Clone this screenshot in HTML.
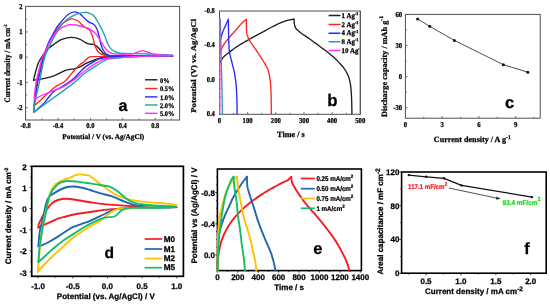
<!DOCTYPE html>
<html><head><meta charset="utf-8"><style>
html,body{margin:0;padding:0;background:#fff;width:550px;height:306px;overflow:hidden}
svg{display:block;will-change:transform;filter:blur(0.3px)}
text{stroke-width:0.25px}
</style></head><body>
<svg width="550" height="306" viewBox="0 0 550 306">
<rect width="550" height="306" fill="#fff"/>
<line x1="41.80" y1="120.00" x2="41.80" y2="118.50" stroke="#505050" stroke-width="0.8" />
<line x1="58.00" y1="120.00" x2="58.00" y2="117.80" stroke="#505050" stroke-width="0.8" />
<line x1="74.20" y1="120.00" x2="74.20" y2="118.50" stroke="#505050" stroke-width="0.8" />
<line x1="90.40" y1="120.00" x2="90.40" y2="117.80" stroke="#505050" stroke-width="0.8" />
<line x1="106.60" y1="120.00" x2="106.60" y2="118.50" stroke="#505050" stroke-width="0.8" />
<line x1="122.80" y1="120.00" x2="122.80" y2="117.80" stroke="#505050" stroke-width="0.8" />
<line x1="139.00" y1="120.00" x2="139.00" y2="118.50" stroke="#505050" stroke-width="0.8" />
<line x1="155.20" y1="120.00" x2="155.20" y2="117.80" stroke="#505050" stroke-width="0.8" />
<line x1="171.40" y1="120.00" x2="171.40" y2="118.50" stroke="#505050" stroke-width="0.8" />
<line x1="25.60" y1="107.70" x2="27.80" y2="107.70" stroke="#505050" stroke-width="0.8" />
<line x1="25.60" y1="95.08" x2="27.10" y2="95.08" stroke="#505050" stroke-width="0.8" />
<line x1="25.60" y1="82.45" x2="27.80" y2="82.45" stroke="#505050" stroke-width="0.8" />
<line x1="25.60" y1="69.83" x2="27.10" y2="69.83" stroke="#505050" stroke-width="0.8" />
<line x1="25.60" y1="57.20" x2="27.80" y2="57.20" stroke="#505050" stroke-width="0.8" />
<line x1="25.60" y1="44.58" x2="27.10" y2="44.58" stroke="#505050" stroke-width="0.8" />
<line x1="25.60" y1="31.95" x2="27.80" y2="31.95" stroke="#505050" stroke-width="0.8" />
<line x1="25.60" y1="19.33" x2="27.10" y2="19.33" stroke="#505050" stroke-width="0.8" />
<rect x="25.6" y="6.4" width="154.0" height="113.6" fill="none" stroke="#505050" stroke-width="1"/>
<text transform="translate(22.60,6.70) skewX(0.05) scale(0.87,1)" font-size="7.5" font-family='"Liberation Serif", serif' font-weight="bold" text-anchor="end" dominant-baseline="central" fill="#000"  stroke="#000">2</text>
<text transform="translate(22.60,31.95) skewX(0.05) scale(0.87,1)" font-size="7.5" font-family='"Liberation Serif", serif' font-weight="bold" text-anchor="end" dominant-baseline="central" fill="#000"  stroke="#000">1</text>
<text transform="translate(22.60,57.20) skewX(0.05) scale(0.87,1)" font-size="7.5" font-family='"Liberation Serif", serif' font-weight="bold" text-anchor="end" dominant-baseline="central" fill="#000"  stroke="#000">0</text>
<text transform="translate(22.60,82.45) skewX(0.05) scale(0.87,1)" font-size="7.5" font-family='"Liberation Serif", serif' font-weight="bold" text-anchor="end" dominant-baseline="central" fill="#000"  stroke="#000">-1</text>
<text transform="translate(22.60,107.70) skewX(0.05) scale(0.87,1)" font-size="7.5" font-family='"Liberation Serif", serif' font-weight="bold" text-anchor="end" dominant-baseline="central" fill="#000"  stroke="#000">-2</text>
<text transform="translate(25.60,126.30) skewX(0.05) scale(0.87,1)" font-size="7.5" font-family='"Liberation Serif", serif' font-weight="bold" text-anchor="middle" dominant-baseline="central" fill="#000"  stroke="#000">-0.8</text>
<text transform="translate(58.00,126.30) skewX(0.05) scale(0.87,1)" font-size="7.5" font-family='"Liberation Serif", serif' font-weight="bold" text-anchor="middle" dominant-baseline="central" fill="#000"  stroke="#000">-0.4</text>
<text transform="translate(90.40,126.30) skewX(0.05) scale(0.87,1)" font-size="7.5" font-family='"Liberation Serif", serif' font-weight="bold" text-anchor="middle" dominant-baseline="central" fill="#000"  stroke="#000">0.0</text>
<text transform="translate(122.80,126.30) skewX(0.05) scale(0.87,1)" font-size="7.5" font-family='"Liberation Serif", serif' font-weight="bold" text-anchor="middle" dominant-baseline="central" fill="#000"  stroke="#000">0.4</text>
<text transform="translate(155.20,126.30) skewX(0.05) scale(0.87,1)" font-size="7.5" font-family='"Liberation Serif", serif' font-weight="bold" text-anchor="middle" dominant-baseline="central" fill="#000"  stroke="#000">0.8</text>
<text transform="translate(103.20,137.30) skewX(0.05) scale(1.0,1)" font-size="7.25" font-family='"Liberation Serif", serif' font-weight="bold" text-anchor="middle" dominant-baseline="central" fill="#000"  stroke="#000">Potential / V (vs. Ag/AgCl)</text>
<text transform="translate(7.5,63.4) rotate(-90) skewX(0.05) scale(0.85,1)" font-size="8.3" font-family='"Liberation Serif", serif' font-weight="bold" text-anchor="middle" dominant-baseline="central" stroke="#000">Current density / mA cm<tspan dy="-2.5" font-size="4.8">-2</tspan></text>
<path d="M33.40,80.30 C33.85,78.58 35.25,72.97 36.10,70.00 C36.95,67.03 37.67,64.50 38.50,62.50 C39.33,60.50 40.10,59.58 41.10,58.00 C42.10,56.42 43.40,54.48 44.50,53.00 C45.60,51.52 46.12,50.55 47.70,49.10 C49.28,47.65 51.95,45.78 54.00,44.30 C56.05,42.82 58.00,41.23 60.00,40.20 C62.00,39.17 64.03,38.57 66.00,38.10 C67.97,37.63 69.53,37.23 71.80,37.40 C74.07,37.57 77.23,38.18 79.60,39.10 C81.97,40.02 84.32,42.05 86.00,42.90 C87.68,43.75 88.48,43.97 89.70,44.20 C90.92,44.43 92.08,43.92 93.30,44.30 C94.52,44.68 95.78,45.52 97.00,46.50 C98.22,47.48 99.53,49.05 100.60,50.20 C101.67,51.35 102.33,52.48 103.40,53.40 C104.47,54.32 105.23,55.23 107.00,55.70 C108.77,56.17 103.10,56.12 114.00,56.20 C124.90,56.28 171.40,56.13 172.40,56.20 C173.40,56.27 131.07,56.43 120.00,56.60 C108.93,56.77 109.17,57.00 106.00,57.20 C102.83,57.40 102.58,57.48 101.00,57.80 C99.42,58.12 98.17,58.50 96.50,59.10 C94.83,59.70 92.83,60.63 91.00,61.40 C89.17,62.17 87.33,62.78 85.50,63.70 C83.67,64.62 81.92,66.05 80.00,66.90 C78.08,67.75 76.30,68.25 74.00,68.80 C71.70,69.35 69.47,69.07 66.20,70.20 C62.93,71.33 58.00,74.23 54.40,75.60 C50.80,76.97 48.10,77.62 44.60,78.40 C41.10,79.18 35.27,79.98 33.40,80.30" fill="none" stroke="#1e1e1e" stroke-width="1.35" stroke-linejoin="round" stroke-linecap="round" />
<path d="M33.80,106.00 C34.03,104.17 34.68,99.00 35.20,95.00 C35.72,91.00 36.13,86.17 36.90,82.00 C37.67,77.83 38.83,74.00 39.80,70.00 C40.77,66.00 41.70,61.33 42.70,58.00 C43.70,54.67 44.77,52.50 45.80,50.00 C46.83,47.50 47.62,45.50 48.90,43.00 C50.18,40.50 51.97,37.50 53.50,35.00 C55.03,32.50 56.77,29.73 58.10,28.00 C59.43,26.27 60.35,25.63 61.50,24.60 C62.65,23.57 63.83,22.60 65.00,21.80 C66.17,21.00 67.33,20.28 68.50,19.80 C69.67,19.32 70.48,18.75 72.00,18.90 C73.52,19.05 75.60,19.43 77.60,20.70 C79.60,21.97 82.02,24.97 84.00,26.50 C85.98,28.03 88.10,28.32 89.50,29.90 C90.90,31.48 91.68,34.07 92.40,36.00 C93.12,37.93 93.35,39.82 93.80,41.50 C94.25,43.18 94.42,44.42 95.10,46.10 C95.78,47.78 96.82,50.23 97.90,51.60 C98.98,52.97 100.08,53.62 101.60,54.30 C103.12,54.98 104.93,55.38 107.00,55.70 C109.07,56.02 103.10,56.12 114.00,56.20 C124.90,56.28 170.57,56.17 172.40,56.20 C174.23,56.23 135.73,56.37 125.00,56.40 C114.27,56.43 113.22,56.37 108.00,56.40 C102.78,56.43 96.92,56.43 93.70,56.60 C90.48,56.77 90.37,56.52 88.70,57.40 C87.03,58.28 85.15,60.70 83.70,61.90 C82.25,63.10 81.45,63.33 80.00,64.60 C78.55,65.87 76.52,67.87 75.00,69.50 C73.48,71.13 72.57,72.43 70.90,74.40 C69.23,76.37 66.77,79.70 65.00,81.30 C63.23,82.90 62.07,82.95 60.30,84.00 C58.53,85.05 57.83,84.78 54.40,87.60 C50.97,90.42 43.13,97.83 39.70,100.90 C36.27,103.97 34.78,105.15 33.80,106.00" fill="none" stroke="#ff2424" stroke-width="1.35" stroke-linejoin="round" stroke-linecap="round" />
<path d="M33.60,112.40 C33.90,110.00 34.70,103.07 35.40,98.00 C36.10,92.93 36.92,86.67 37.80,82.00 C38.68,77.33 39.77,74.00 40.70,70.00 C41.63,66.00 42.55,61.33 43.40,58.00 C44.25,54.67 44.97,52.50 45.80,50.00 C46.63,47.50 47.32,45.42 48.40,43.00 C49.48,40.58 50.98,38.00 52.30,35.50 C53.62,33.00 55.27,29.72 56.30,28.00 C57.33,26.28 57.38,26.60 58.50,25.20 C59.62,23.80 61.33,21.43 63.00,19.60 C64.67,17.77 66.55,15.48 68.50,14.20 C70.45,12.92 72.85,12.00 74.70,11.90 C76.55,11.80 78.05,12.62 79.60,13.60 C81.15,14.58 82.50,16.42 84.00,17.80 C85.50,19.18 86.92,20.75 88.60,21.90 C90.28,23.05 92.73,23.55 94.10,24.70 C95.47,25.85 95.97,26.90 96.80,28.80 C97.63,30.70 98.47,33.68 99.10,36.10 C99.73,38.52 100.03,41.18 100.60,43.30 C101.17,45.42 101.73,47.20 102.50,48.80 C103.27,50.40 104.13,51.83 105.20,52.90 C106.27,53.97 107.43,54.68 108.90,55.20 C110.37,55.72 103.42,55.87 114.00,56.00 C124.58,56.13 168.07,55.95 172.40,56.00 C176.73,56.05 150.73,56.08 140.00,56.30 C129.27,56.52 114.03,57.05 108.00,57.30 C101.97,57.55 105.42,57.50 103.80,57.80 C102.18,58.10 100.28,58.27 98.30,59.10 C96.32,59.93 94.03,61.50 91.90,62.80 C89.77,64.10 87.48,65.37 85.50,66.90 C83.52,68.43 82.12,69.93 80.00,72.00 C77.88,74.07 75.83,76.82 72.80,79.30 C69.77,81.78 64.87,84.95 61.80,86.90 C58.73,88.85 56.62,89.23 54.40,91.00 C52.18,92.77 50.15,95.57 48.50,97.50 C46.85,99.43 46.17,100.82 44.50,102.60 C42.83,104.38 40.32,106.57 38.50,108.20 C36.68,109.83 34.42,111.70 33.60,112.40" fill="none" stroke="#2727ff" stroke-width="1.35" stroke-linejoin="round" stroke-linecap="round" />
<path d="M33.60,112.40 C33.90,110.33 34.50,104.73 35.40,100.00 C36.30,95.27 37.93,89.00 39.00,84.00 C40.07,79.00 40.88,74.33 41.80,70.00 C42.72,65.67 43.43,61.50 44.50,58.00 C45.57,54.50 47.02,51.67 48.20,49.00 C49.38,46.33 50.38,44.42 51.60,42.00 C52.82,39.58 54.22,36.83 55.50,34.50 C56.78,32.17 57.97,29.98 59.30,28.00 C60.63,26.02 61.97,24.18 63.50,22.60 C65.03,21.02 66.75,19.70 68.50,18.50 C70.25,17.30 72.42,16.22 74.00,15.40 C75.58,14.58 76.08,14.12 78.00,13.60 C79.92,13.08 83.50,12.32 85.50,12.30 C87.50,12.28 88.57,12.88 90.00,13.50 C91.43,14.12 92.50,14.07 94.10,16.00 C95.70,17.93 97.93,22.05 99.60,25.10 C101.27,28.15 102.78,31.27 104.10,34.30 C105.42,37.33 106.48,41.03 107.50,43.30 C108.52,45.57 109.12,46.60 110.20,47.90 C111.28,49.20 112.70,50.32 114.00,51.10 C115.30,51.88 116.33,52.23 118.00,52.60 C119.67,52.97 118.80,53.07 124.00,53.30 C129.20,53.53 141.13,53.65 149.20,54.00 C157.27,54.35 173.93,55.00 172.40,55.40 C170.87,55.80 150.73,55.78 140.00,56.40 C129.27,57.02 113.73,58.48 108.00,59.10 C102.27,59.72 106.92,59.40 105.60,60.10 C104.28,60.80 102.08,62.08 100.10,63.30 C98.12,64.52 95.83,66.03 93.70,67.40 C91.57,68.77 89.25,70.13 87.30,71.50 C85.35,72.87 83.55,74.25 82.00,75.60 C80.45,76.95 80.00,77.88 78.00,79.60 C76.00,81.32 73.33,83.40 70.00,85.90 C66.67,88.40 62.07,91.65 58.00,94.60 C53.93,97.55 49.67,100.63 45.60,103.60 C41.53,106.57 35.60,110.93 33.60,112.40" fill="none" stroke="#1fa59f" stroke-width="1.35" stroke-linejoin="round" stroke-linecap="round" />
<path d="M34.10,99.40 C34.37,97.00 34.90,89.90 35.70,85.00 C36.50,80.10 37.83,74.50 38.90,70.00 C39.97,65.50 40.92,61.33 42.10,58.00 C43.28,54.67 44.80,52.50 46.00,50.00 C47.20,47.50 47.97,45.50 49.30,43.00 C50.63,40.50 52.23,37.33 54.00,35.00 C55.77,32.67 57.92,30.53 59.90,29.00 C61.88,27.47 64.22,26.52 65.90,25.80 C67.58,25.08 68.37,24.83 70.00,24.70 C71.63,24.57 73.37,24.62 75.70,25.00 C78.03,25.38 81.70,26.37 84.00,27.00 C86.30,27.63 87.67,27.82 89.50,28.80 C91.33,29.78 93.68,31.70 95.00,32.90 C96.32,34.10 96.23,34.27 97.40,36.00 C98.57,37.73 100.55,41.08 102.00,43.30 C103.45,45.52 104.80,47.77 106.10,49.30 C107.40,50.83 108.48,51.75 109.80,52.50 C111.12,53.25 111.47,53.52 114.00,53.80 C116.53,54.08 121.75,54.23 125.00,54.20 C128.25,54.17 130.60,54.20 133.50,53.60 C136.40,53.00 139.45,50.60 142.40,50.60 C145.35,50.60 148.27,52.87 151.20,53.60 C154.13,54.33 156.47,54.67 160.00,55.00 C163.53,55.33 175.73,55.37 172.40,55.60 C169.07,55.83 150.73,55.97 140.00,56.40 C129.27,56.83 113.88,57.80 108.00,58.20 C102.12,58.60 106.17,58.27 104.70,58.80 C103.23,59.33 101.18,60.35 99.20,61.40 C97.22,62.45 94.93,63.72 92.80,65.10 C90.67,66.48 88.53,68.10 86.40,69.70 C84.27,71.30 81.65,73.32 80.00,74.70 C78.35,76.08 78.17,76.70 76.50,78.00 C74.83,79.30 72.22,81.02 70.00,82.50 C67.78,83.98 65.30,85.80 63.20,86.90 C61.10,88.00 60.83,87.75 57.40,89.10 C53.97,90.45 46.48,93.28 42.60,95.00 C38.72,96.72 35.52,98.67 34.10,99.40" fill="none" stroke="#ff2cff" stroke-width="1.35" stroke-linejoin="round" stroke-linecap="round" />
<line x1="145.00" y1="79.80" x2="157.50" y2="79.80" stroke="#1e1e1e" stroke-width="1.4" />
<text transform="translate(160.00,79.90) skewX(0.05) scale(0.92,1)" font-size="7.0" font-family='"Liberation Serif", serif' font-weight="bold" text-anchor="start" dominant-baseline="central" fill="#000"  stroke="#000">0%</text>
<line x1="145.00" y1="88.50" x2="157.50" y2="88.50" stroke="#ff2424" stroke-width="1.4" />
<text transform="translate(160.00,88.60) skewX(0.05) scale(0.92,1)" font-size="7.0" font-family='"Liberation Serif", serif' font-weight="bold" text-anchor="start" dominant-baseline="central" fill="#000"  stroke="#000">0.5%</text>
<line x1="145.00" y1="96.90" x2="157.50" y2="96.90" stroke="#2727ff" stroke-width="1.4" />
<text transform="translate(160.00,97.00) skewX(0.05) scale(0.92,1)" font-size="7.0" font-family='"Liberation Serif", serif' font-weight="bold" text-anchor="start" dominant-baseline="central" fill="#000"  stroke="#000">1.0%</text>
<line x1="145.00" y1="105.00" x2="157.50" y2="105.00" stroke="#1fa59f" stroke-width="1.4" />
<text transform="translate(160.00,105.10) skewX(0.05) scale(0.92,1)" font-size="7.0" font-family='"Liberation Serif", serif' font-weight="bold" text-anchor="start" dominant-baseline="central" fill="#000"  stroke="#000">2.0%</text>
<line x1="145.00" y1="113.30" x2="157.50" y2="113.30" stroke="#ff2cff" stroke-width="1.4" />
<text transform="translate(160.00,113.40) skewX(0.05) scale(0.92,1)" font-size="7.0" font-family='"Liberation Serif", serif' font-weight="bold" text-anchor="start" dominant-baseline="central" fill="#000"  stroke="#000">5.0%</text>
<text transform="translate(123.00,105.00) skewX(0.05) scale(1.0,1)" font-size="16.2" font-family='"Liberation Sans", sans-serif' font-weight="bold" text-anchor="middle" dominant-baseline="central" fill="#000"  stroke="#000">a</text>
<line x1="233.58" y1="114.30" x2="233.58" y2="112.80" stroke="#505050" stroke-width="0.8" />
<line x1="247.66" y1="114.30" x2="247.66" y2="112.10" stroke="#505050" stroke-width="0.8" />
<line x1="261.74" y1="114.30" x2="261.74" y2="112.80" stroke="#505050" stroke-width="0.8" />
<line x1="275.82" y1="114.30" x2="275.82" y2="112.10" stroke="#505050" stroke-width="0.8" />
<line x1="289.90" y1="114.30" x2="289.90" y2="112.80" stroke="#505050" stroke-width="0.8" />
<line x1="303.98" y1="114.30" x2="303.98" y2="112.10" stroke="#505050" stroke-width="0.8" />
<line x1="318.06" y1="114.30" x2="318.06" y2="112.80" stroke="#505050" stroke-width="0.8" />
<line x1="332.14" y1="114.30" x2="332.14" y2="112.10" stroke="#505050" stroke-width="0.8" />
<line x1="346.22" y1="114.30" x2="346.22" y2="112.80" stroke="#505050" stroke-width="0.8" />
<line x1="219.50" y1="19.57" x2="221.00" y2="19.57" stroke="#505050" stroke-width="0.8" />
<line x1="219.50" y1="28.16" x2="221.00" y2="28.16" stroke="#505050" stroke-width="0.8" />
<line x1="219.50" y1="36.75" x2="221.00" y2="36.75" stroke="#505050" stroke-width="0.8" />
<line x1="219.50" y1="45.34" x2="221.70" y2="45.34" stroke="#505050" stroke-width="0.8" />
<line x1="219.50" y1="53.93" x2="221.00" y2="53.93" stroke="#505050" stroke-width="0.8" />
<line x1="219.50" y1="62.52" x2="221.00" y2="62.52" stroke="#505050" stroke-width="0.8" />
<line x1="219.50" y1="71.11" x2="221.00" y2="71.11" stroke="#505050" stroke-width="0.8" />
<line x1="219.50" y1="79.70" x2="221.70" y2="79.70" stroke="#505050" stroke-width="0.8" />
<line x1="219.50" y1="88.29" x2="221.00" y2="88.29" stroke="#505050" stroke-width="0.8" />
<line x1="219.50" y1="96.88" x2="221.00" y2="96.88" stroke="#505050" stroke-width="0.8" />
<line x1="219.50" y1="105.47" x2="221.00" y2="105.47" stroke="#505050" stroke-width="0.8" />
<rect x="219.5" y="11.0" width="140.8" height="103.3" fill="none" stroke="#505050" stroke-width="1"/>
<text transform="translate(214.80,10.98) skewX(0.05) scale(0.87,1)" font-size="7.5" font-family='"Liberation Serif", serif' font-weight="bold" text-anchor="end" dominant-baseline="central" fill="#000"  stroke="#000">-0.8</text>
<text transform="translate(214.80,45.34) skewX(0.05) scale(0.87,1)" font-size="7.5" font-family='"Liberation Serif", serif' font-weight="bold" text-anchor="end" dominant-baseline="central" fill="#000"  stroke="#000">-0.4</text>
<text transform="translate(214.80,79.70) skewX(0.05) scale(0.87,1)" font-size="7.5" font-family='"Liberation Serif", serif' font-weight="bold" text-anchor="end" dominant-baseline="central" fill="#000"  stroke="#000">0.0</text>
<text transform="translate(214.80,114.06) skewX(0.05) scale(0.87,1)" font-size="7.5" font-family='"Liberation Serif", serif' font-weight="bold" text-anchor="end" dominant-baseline="central" fill="#000"  stroke="#000">0.4</text>
<text transform="translate(219.50,121.30) skewX(0.05) scale(0.9,1)" font-size="7.5" font-family='"Liberation Serif", serif' font-weight="bold" text-anchor="middle" dominant-baseline="central" fill="#000"  stroke="#000">0</text>
<text transform="translate(247.66,121.30) skewX(0.05) scale(0.9,1)" font-size="7.5" font-family='"Liberation Serif", serif' font-weight="bold" text-anchor="middle" dominant-baseline="central" fill="#000"  stroke="#000">100</text>
<text transform="translate(275.82,121.30) skewX(0.05) scale(0.9,1)" font-size="7.5" font-family='"Liberation Serif", serif' font-weight="bold" text-anchor="middle" dominant-baseline="central" fill="#000"  stroke="#000">200</text>
<text transform="translate(303.98,121.30) skewX(0.05) scale(0.9,1)" font-size="7.5" font-family='"Liberation Serif", serif' font-weight="bold" text-anchor="middle" dominant-baseline="central" fill="#000"  stroke="#000">300</text>
<text transform="translate(332.14,121.30) skewX(0.05) scale(0.9,1)" font-size="7.5" font-family='"Liberation Serif", serif' font-weight="bold" text-anchor="middle" dominant-baseline="central" fill="#000"  stroke="#000">400</text>
<text transform="translate(360.30,121.30) skewX(0.05) scale(0.9,1)" font-size="7.5" font-family='"Liberation Serif", serif' font-weight="bold" text-anchor="middle" dominant-baseline="central" fill="#000"  stroke="#000">500</text>
<text transform="translate(290.90,134.40) skewX(0.05) scale(1.0,1)" font-size="8.2" font-family='"Liberation Serif", serif' font-weight="bold" text-anchor="middle" dominant-baseline="central" fill="#000"  stroke="#000">Time / s</text>
<text transform="translate(193.5,65.8) rotate(-90) skewX(0.05)" font-size="7.4" font-family='"Liberation Serif", serif' font-weight="bold" text-anchor="middle" dominant-baseline="central" textLength="94" lengthAdjust="spacingAndGlyphs" stroke="#000">Potential (V) vs. Ag/AgCl</text>
<path d="M219.80,62.50 L220.74,60.89 L221.68,59.39 L222.62,58.06 L223.56,56.94 L224.50,56.01 L225.44,55.19 L226.37,54.46 L227.31,53.76 L228.25,53.07 L229.19,52.35 L230.13,51.61 L231.07,50.87 L232.01,50.14 L232.95,49.42 L233.89,48.71 L234.83,48.02 L235.77,47.36 L236.71,46.73 L237.65,46.12 L238.58,45.54 L239.52,44.96 L240.46,44.41 L241.40,43.86 L242.34,43.32 L243.28,42.78 L244.22,42.24 L245.16,41.70 L246.10,41.15 L247.04,40.60 L247.98,40.06 L248.92,39.51 L249.86,38.97 L250.79,38.44 L251.73,37.90 L252.67,37.37 L253.61,36.85 L254.55,36.33 L255.49,35.81 L256.43,35.30 L257.37,34.80 L258.31,34.30 L259.25,33.81 L260.19,33.31 L261.13,32.82 L262.07,32.32 L263.01,31.82 L263.94,31.32 L264.88,30.81 L265.82,30.30 L266.76,29.78 L267.70,29.27 L268.64,28.75 L269.58,28.24 L270.52,27.73 L271.46,27.24 L272.40,26.75 L273.34,26.28 L274.28,25.81 L275.22,25.33 L276.15,24.86 L277.09,24.40 L278.03,23.95 L278.97,23.51 L279.91,23.09 L280.85,22.69 L281.79,22.32 L282.73,21.97 L283.67,21.62 L284.61,21.29 L285.55,20.98 L286.49,20.68 L287.43,20.40 L288.36,20.15 L289.30,19.92 L290.24,19.72 L291.18,19.54 L292.12,19.37 L293.06,19.22 L294.00,19.10" fill="none" stroke="#1e1e1e" stroke-width="1.35" stroke-linejoin="round" stroke-linecap="round" />
<path d="M294.00,19.10 L294.03,20.30 L294.10,21.50 L294.23,22.70 L294.40,23.91 L294.61,25.11 L294.86,26.31 L295.32,27.51 L296.23,28.71 L297.39,29.91 L298.61,31.11 L299.99,32.31 L301.59,33.52 L303.36,34.72 L305.20,35.92 L307.04,37.12 L308.81,38.32 L310.47,39.52 L312.12,40.72 L313.75,41.92 L315.38,43.13 L317.01,44.33 L318.62,45.53 L320.24,46.73 L321.85,47.93 L323.49,49.13 L325.13,50.33 L326.75,51.53 L328.32,52.74 L329.81,53.94 L331.22,55.14 L332.61,56.34 L333.97,57.54 L335.28,58.74 L336.54,59.94 L337.74,61.14 L338.89,62.35 L339.97,63.55 L341.04,64.75 L342.08,65.95 L343.09,67.15 L344.03,68.35 L344.89,69.55 L345.67,70.75 L346.33,71.96 L346.95,73.16 L347.53,74.36 L348.07,75.56 L348.56,76.76 L349.00,77.96 L349.37,79.16 L349.67,80.36 L349.92,81.57 L350.14,82.77 L350.35,83.97 L350.53,85.17 L350.70,86.37 L350.84,87.57 L350.97,88.77 L351.07,89.97 L351.17,91.18 L351.25,92.38 L351.33,93.58 L351.40,94.78 L351.47,95.98 L351.53,97.18 L351.58,98.38 L351.63,99.58 L351.67,100.79 L351.70,101.99 L351.73,103.19 L351.76,104.39 L351.79,105.59 L351.81,106.79 L351.84,107.99 L351.86,109.19 L351.88,110.40 L351.89,111.60 L351.90,112.80 L351.90,114.00" fill="none" stroke="#1e1e1e" stroke-width="1.35" stroke-linejoin="round" stroke-linecap="round" />
<path d="M219.80,53.40 L220.14,52.53 L220.47,51.67 L220.81,50.83 L221.15,50.01 L221.48,49.21 L221.82,48.44 L222.16,47.70 L222.49,46.99 L222.83,46.32 L223.17,45.69 L223.50,45.09 L223.84,44.54 L224.18,44.00 L224.51,43.49 L224.85,43.00 L225.19,42.52 L225.52,42.07 L225.86,41.62 L226.20,41.19 L226.53,40.77 L226.87,40.36 L227.21,39.95 L227.54,39.54 L227.88,39.14 L228.22,38.74 L228.55,38.34 L228.89,37.93 L229.23,37.52 L229.56,37.12 L229.90,36.72 L230.24,36.33 L230.57,35.94 L230.91,35.56 L231.25,35.18 L231.58,34.80 L231.92,34.43 L232.26,34.06 L232.59,33.69 L232.93,33.32 L233.27,32.95 L233.61,32.59 L233.94,32.22 L234.28,31.85 L234.62,31.48 L234.95,31.11 L235.29,30.74 L235.63,30.36 L235.96,29.98 L236.30,29.60 L236.64,29.21 L236.97,28.81 L237.31,28.41 L237.65,28.00 L237.98,27.59 L238.32,27.18 L238.66,26.77 L238.99,26.35 L239.33,25.95 L239.67,25.54 L240.00,25.15 L240.34,24.76 L240.68,24.38 L241.01,24.01 L241.35,23.65 L241.69,23.31 L242.02,22.98 L242.36,22.66 L242.70,22.35 L243.03,22.03 L243.37,21.73 L243.71,21.43 L244.04,21.14 L244.38,20.86 L244.72,20.58 L245.05,20.31 L245.39,20.05 L245.73,19.79 L246.06,19.54 L246.40,19.30" fill="none" stroke="#ff2424" stroke-width="1.35" stroke-linejoin="round" stroke-linecap="round" />
<path d="M246.40,19.30 L246.40,20.50 L246.41,21.70 L246.41,22.90 L246.43,24.09 L246.44,25.29 L246.46,26.49 L246.48,27.69 L246.51,28.89 L246.54,30.09 L246.57,31.29 L246.61,32.49 L246.77,33.68 L247.09,34.88 L247.52,36.08 L248.04,37.28 L248.59,38.48 L249.14,39.68 L249.75,40.88 L250.48,42.08 L251.29,43.27 L252.15,44.47 L253.03,45.67 L253.89,46.87 L254.71,48.07 L255.52,49.27 L256.33,50.47 L257.15,51.67 L257.96,52.86 L258.76,54.06 L259.56,55.26 L260.33,56.46 L261.11,57.66 L261.87,58.86 L262.63,60.06 L263.38,61.26 L264.09,62.45 L264.79,63.65 L265.50,64.85 L266.22,66.05 L266.90,67.25 L267.50,68.45 L267.95,69.65 L268.29,70.85 L268.61,72.04 L268.90,73.24 L269.17,74.44 L269.41,75.64 L269.64,76.84 L269.84,78.04 L270.03,79.24 L270.19,80.44 L270.33,81.63 L270.44,82.83 L270.54,84.03 L270.63,85.23 L270.72,86.43 L270.79,87.63 L270.86,88.83 L270.93,90.03 L270.98,91.22 L271.03,92.42 L271.07,93.62 L271.10,94.82 L271.12,96.02 L271.14,97.22 L271.16,98.42 L271.18,99.62 L271.20,100.81 L271.21,102.01 L271.23,103.21 L271.24,104.41 L271.26,105.61 L271.27,106.81 L271.28,108.01 L271.28,109.21 L271.29,110.40 L271.30,111.60 L271.30,112.80 L271.30,114.00" fill="none" stroke="#ff2424" stroke-width="1.35" stroke-linejoin="round" stroke-linecap="round" />
<path d="M219.80,42.40 L219.91,41.95 L220.02,41.49 L220.13,41.05 L220.24,40.60 L220.34,40.16 L220.45,39.73 L220.56,39.30 L220.67,38.87 L220.78,38.45 L220.89,38.03 L221.00,37.62 L221.11,37.22 L221.22,36.82 L221.32,36.42 L221.43,36.03 L221.54,35.65 L221.65,35.27 L221.76,34.90 L221.87,34.54 L221.98,34.19 L222.09,33.84 L222.19,33.50 L222.30,33.17 L222.41,32.84 L222.52,32.52 L222.63,32.21 L222.74,31.91 L222.85,31.62 L222.96,31.33 L223.07,31.05 L223.17,30.77 L223.28,30.49 L223.39,30.23 L223.50,29.96 L223.61,29.71 L223.72,29.45 L223.83,29.20 L223.94,28.95 L224.05,28.71 L224.15,28.47 L224.26,28.23 L224.37,27.99 L224.48,27.76 L224.59,27.53 L224.70,27.30 L224.81,27.07 L224.92,26.84 L225.03,26.61 L225.13,26.38 L225.24,26.15 L225.35,25.92 L225.46,25.69 L225.57,25.46 L225.68,25.23 L225.79,25.00 L225.90,24.77 L226.01,24.53 L226.11,24.29 L226.22,24.05 L226.33,23.81 L226.44,23.57 L226.55,23.33 L226.66,23.09 L226.77,22.85 L226.88,22.61 L226.98,22.37 L227.09,22.13 L227.20,21.89 L227.31,21.65 L227.42,21.42 L227.53,21.18 L227.64,20.94 L227.75,20.71 L227.86,20.47 L227.96,20.24 L228.07,20.00 L228.18,19.77 L228.29,19.53 L228.40,19.30" fill="none" stroke="#2727ff" stroke-width="1.35" stroke-linejoin="round" stroke-linecap="round" />
<path d="M228.40,19.30 L228.40,20.50 L228.41,21.70 L228.41,22.90 L228.42,24.09 L228.43,25.29 L228.45,26.49 L228.46,27.69 L228.48,28.89 L228.49,30.09 L228.51,31.29 L228.53,32.49 L228.56,33.68 L228.58,34.88 L228.60,36.08 L228.63,37.28 L228.66,38.48 L228.69,39.68 L228.74,40.88 L228.78,42.08 L228.84,43.27 L228.90,44.47 L228.96,45.67 L229.03,46.87 L229.11,48.07 L229.20,49.27 L229.29,50.47 L229.41,51.67 L229.59,52.86 L229.83,54.06 L230.09,55.26 L230.39,56.46 L230.70,57.66 L231.02,58.86 L231.33,60.06 L231.62,61.26 L231.90,62.45 L232.20,63.65 L232.51,64.85 L232.82,66.05 L233.14,67.25 L233.45,68.45 L233.75,69.65 L234.03,70.85 L234.29,72.04 L234.52,73.24 L234.72,74.44 L234.92,75.64 L235.11,76.84 L235.29,78.04 L235.46,79.24 L235.63,80.44 L235.78,81.63 L235.92,82.83 L236.05,84.03 L236.16,85.23 L236.26,86.43 L236.34,87.63 L236.42,88.83 L236.49,90.03 L236.56,91.22 L236.62,92.42 L236.68,93.62 L236.73,94.82 L236.78,96.02 L236.82,97.22 L236.86,98.42 L236.89,99.62 L236.92,100.81 L236.94,102.01 L236.97,103.21 L236.99,104.41 L237.01,105.61 L237.04,106.81 L237.05,108.01 L237.07,109.21 L237.08,110.40 L237.09,111.60 L237.10,112.80 L237.10,114.00" fill="none" stroke="#2727ff" stroke-width="1.35" stroke-linejoin="round" stroke-linecap="round" />
<path d="M220.3,19.2 L221.2,60 L222,90 L222.4,114" fill="none" stroke="#1fa59f" stroke-width="1.35" stroke-linejoin="round" stroke-linecap="round" />
<path d="M219.8,19.2 L219.8,114" fill="none" stroke="#ff2cff" stroke-width="1.35" stroke-linejoin="round" stroke-linecap="round" />
<clipPath id="clipb"><rect x="200" y="0" width="159.6" height="120"/></clipPath>
<g clip-path="url(#clipb)">
<line x1="328.60" y1="15.40" x2="340.40" y2="15.40" stroke="#1e1e1e" stroke-width="1.5" />
<text transform="translate(341.6,15.5) skewX(0.05) scale(0.95,1)" font-size="7.3" font-family='"Liberation Serif", serif' font-weight="bold" dominant-baseline="central" stroke="#000">1 Ag<tspan dy="-2.5" font-size="4.5">-1</tspan></text>
<line x1="328.60" y1="24.40" x2="340.40" y2="24.40" stroke="#ff2424" stroke-width="1.5" />
<text transform="translate(341.6,24.5) skewX(0.05) scale(0.95,1)" font-size="7.3" font-family='"Liberation Serif", serif' font-weight="bold" dominant-baseline="central" stroke="#000">2 Ag<tspan dy="-2.5" font-size="4.5">-1</tspan></text>
<line x1="328.60" y1="33.20" x2="340.40" y2="33.20" stroke="#2727ff" stroke-width="1.5" />
<text transform="translate(341.6,33.300000000000004) skewX(0.05) scale(0.95,1)" font-size="7.3" font-family='"Liberation Serif", serif' font-weight="bold" dominant-baseline="central" stroke="#000">4 Ag<tspan dy="-2.5" font-size="4.5">-1</tspan></text>
<line x1="328.60" y1="41.80" x2="340.40" y2="41.80" stroke="#1fa59f" stroke-width="1.5" />
<text transform="translate(341.6,41.9) skewX(0.05) scale(0.95,1)" font-size="7.3" font-family='"Liberation Serif", serif' font-weight="bold" dominant-baseline="central" stroke="#000">8 Ag<tspan dy="-2.5" font-size="4.5">-1</tspan></text>
<line x1="328.60" y1="50.60" x2="340.40" y2="50.60" stroke="#ff2cff" stroke-width="1.5" />
<text transform="translate(341.6,50.7) skewX(0.05) scale(0.95,1)" font-size="7.3" font-family='"Liberation Serif", serif' font-weight="bold" dominant-baseline="central" stroke="#000">10 Ag<tspan dy="-2.5" font-size="4.5">-1</tspan></text>
</g>
<line x1="360.3" y1="11.0" x2="360.3" y2="114.3" stroke="#505050" stroke-width="1"/>
<text transform="translate(332.40,100.60) skewX(0.05) scale(1.0,1)" font-size="16.8" font-family='"Liberation Sans", sans-serif' font-weight="bold" text-anchor="middle" dominant-baseline="central" fill="#000"  stroke="#000">b</text>
<line x1="423.78" y1="118.20" x2="423.78" y2="116.70" stroke="#505050" stroke-width="0.8" />
<line x1="442.16" y1="118.20" x2="442.16" y2="116.00" stroke="#505050" stroke-width="0.8" />
<line x1="460.55" y1="118.20" x2="460.55" y2="116.70" stroke="#505050" stroke-width="0.8" />
<line x1="478.93" y1="118.20" x2="478.93" y2="116.00" stroke="#505050" stroke-width="0.8" />
<line x1="497.31" y1="118.20" x2="497.31" y2="116.70" stroke="#505050" stroke-width="0.8" />
<line x1="515.69" y1="118.20" x2="515.69" y2="116.00" stroke="#505050" stroke-width="0.8" />
<line x1="534.07" y1="118.20" x2="534.07" y2="116.70" stroke="#505050" stroke-width="0.8" />
<line x1="405.40" y1="107.82" x2="407.60" y2="107.82" stroke="#505050" stroke-width="0.8" />
<line x1="405.40" y1="92.25" x2="406.90" y2="92.25" stroke="#505050" stroke-width="0.8" />
<line x1="405.40" y1="76.68" x2="407.60" y2="76.68" stroke="#505050" stroke-width="0.8" />
<line x1="405.40" y1="61.11" x2="406.90" y2="61.11" stroke="#505050" stroke-width="0.8" />
<line x1="405.40" y1="45.54" x2="407.60" y2="45.54" stroke="#505050" stroke-width="0.8" />
<line x1="405.40" y1="29.97" x2="406.90" y2="29.97" stroke="#505050" stroke-width="0.8" />
<rect x="405.4" y="14.4" width="134.80000000000007" height="103.8" fill="none" stroke="#505050" stroke-width="1"/>
<text transform="translate(402.20,14.40) skewX(0.05) scale(0.9,1)" font-size="7.5" font-family='"Liberation Serif", serif' font-weight="bold" text-anchor="end" dominant-baseline="central" fill="#000"  stroke="#000">60</text>
<text transform="translate(402.20,45.54) skewX(0.05) scale(0.9,1)" font-size="7.5" font-family='"Liberation Serif", serif' font-weight="bold" text-anchor="end" dominant-baseline="central" fill="#000"  stroke="#000">30</text>
<text transform="translate(402.20,76.68) skewX(0.05) scale(0.9,1)" font-size="7.5" font-family='"Liberation Serif", serif' font-weight="bold" text-anchor="end" dominant-baseline="central" fill="#000"  stroke="#000">0</text>
<text transform="translate(402.20,107.82) skewX(0.05) scale(0.9,1)" font-size="7.5" font-family='"Liberation Serif", serif' font-weight="bold" text-anchor="end" dominant-baseline="central" fill="#000"  stroke="#000">-30</text>
<text transform="translate(405.40,125.00) skewX(0.05) scale(0.9,1)" font-size="7.5" font-family='"Liberation Serif", serif' font-weight="bold" text-anchor="middle" dominant-baseline="central" fill="#000"  stroke="#000">0</text>
<text transform="translate(442.16,125.00) skewX(0.05) scale(0.9,1)" font-size="7.5" font-family='"Liberation Serif", serif' font-weight="bold" text-anchor="middle" dominant-baseline="central" fill="#000"  stroke="#000">3</text>
<text transform="translate(478.93,125.00) skewX(0.05) scale(0.9,1)" font-size="7.5" font-family='"Liberation Serif", serif' font-weight="bold" text-anchor="middle" dominant-baseline="central" fill="#000"  stroke="#000">6</text>
<text transform="translate(515.69,125.00) skewX(0.05) scale(0.9,1)" font-size="7.5" font-family='"Liberation Serif", serif' font-weight="bold" text-anchor="middle" dominant-baseline="central" fill="#000"  stroke="#000">9</text>
<text transform="translate(472.3,139.5) skewX(0.05)" font-size="8.1" font-family='"Liberation Serif", serif' font-weight="bold" text-anchor="middle" dominant-baseline="central" stroke="#000">Current density / A g<tspan dy="-3" font-size="5.6">-1</tspan></text>
<text transform="translate(384.2,66.5) rotate(-90) skewX(0.05)" font-size="8.1" font-family='"Liberation Serif", serif' font-weight="bold" text-anchor="middle" dominant-baseline="central" textLength="101" lengthAdjust="spacingAndGlyphs" stroke="#000">Discharge capacity / mAh g<tspan dy="-3" font-size="5.6">-1</tspan></text>
<path d="M417.6,18.9 L429.7,26.3 L454.4,40.4 L503.4,64.7 L527.8,72.2" fill="none" stroke="#3a3a3a" stroke-width="0.9" stroke-linejoin="round" stroke-linecap="round" />
<circle cx="417.6" cy="18.9" r="1.5" fill="#111"/>
<circle cx="429.7" cy="26.3" r="1.5" fill="#111"/>
<circle cx="454.4" cy="40.4" r="1.5" fill="#111"/>
<circle cx="503.4" cy="64.7" r="1.5" fill="#111"/>
<circle cx="527.8" cy="72.2" r="1.5" fill="#111"/>
<text transform="translate(509.50,102.40) skewX(0.05) scale(1.0,1)" font-size="16.5" font-family='"Liberation Sans", sans-serif' font-weight="bold" text-anchor="middle" dominant-baseline="central" fill="#000"  stroke="#000">c</text>
<line x1="38.05" y1="276.30" x2="38.05" y2="278.30" stroke="#000" stroke-width="0.8" />
<line x1="55.39" y1="276.30" x2="55.39" y2="277.60" stroke="#000" stroke-width="0.8" />
<line x1="72.73" y1="276.30" x2="72.73" y2="278.30" stroke="#000" stroke-width="0.8" />
<line x1="90.06" y1="276.30" x2="90.06" y2="277.60" stroke="#000" stroke-width="0.8" />
<line x1="107.40" y1="276.30" x2="107.40" y2="278.30" stroke="#000" stroke-width="0.8" />
<line x1="124.74" y1="276.30" x2="124.74" y2="277.60" stroke="#000" stroke-width="0.8" />
<line x1="142.07" y1="276.30" x2="142.07" y2="278.30" stroke="#000" stroke-width="0.8" />
<line x1="159.41" y1="276.30" x2="159.41" y2="277.60" stroke="#000" stroke-width="0.8" />
<line x1="176.75" y1="276.30" x2="176.75" y2="278.30" stroke="#000" stroke-width="0.8" />
<line x1="31.70" y1="271.96" x2="29.70" y2="271.96" stroke="#000" stroke-width="0.8" />
<line x1="31.70" y1="261.40" x2="30.40" y2="261.40" stroke="#000" stroke-width="0.8" />
<line x1="31.70" y1="250.84" x2="29.70" y2="250.84" stroke="#000" stroke-width="0.8" />
<line x1="31.70" y1="240.28" x2="30.40" y2="240.28" stroke="#000" stroke-width="0.8" />
<line x1="31.70" y1="229.72" x2="29.70" y2="229.72" stroke="#000" stroke-width="0.8" />
<line x1="31.70" y1="219.16" x2="30.40" y2="219.16" stroke="#000" stroke-width="0.8" />
<line x1="31.70" y1="208.60" x2="29.70" y2="208.60" stroke="#000" stroke-width="0.8" />
<line x1="31.70" y1="198.04" x2="30.40" y2="198.04" stroke="#000" stroke-width="0.8" />
<line x1="31.70" y1="187.48" x2="29.70" y2="187.48" stroke="#000" stroke-width="0.8" />
<line x1="31.70" y1="176.92" x2="30.40" y2="176.92" stroke="#000" stroke-width="0.8" />
<line x1="31.70" y1="166.36" x2="29.70" y2="166.36" stroke="#000" stroke-width="0.8" />
<rect x="31.7" y="166.3" width="151.70000000000002" height="110.0" fill="none" stroke="#000" stroke-width="1.7"/>
<text transform="translate(26.80,167.46) skewX(0.05) scale(1.0,1)" font-size="8" font-family='"Liberation Sans", sans-serif' font-weight="bold" text-anchor="end" dominant-baseline="central" fill="#000"  stroke="#000">2</text>
<text transform="translate(26.80,188.58) skewX(0.05) scale(1.0,1)" font-size="8" font-family='"Liberation Sans", sans-serif' font-weight="bold" text-anchor="end" dominant-baseline="central" fill="#000"  stroke="#000">1</text>
<text transform="translate(26.80,209.70) skewX(0.05) scale(1.0,1)" font-size="8" font-family='"Liberation Sans", sans-serif' font-weight="bold" text-anchor="end" dominant-baseline="central" fill="#000"  stroke="#000">0</text>
<text transform="translate(26.80,230.82) skewX(0.05) scale(1.0,1)" font-size="8" font-family='"Liberation Sans", sans-serif' font-weight="bold" text-anchor="end" dominant-baseline="central" fill="#000"  stroke="#000">-1</text>
<text transform="translate(26.80,251.94) skewX(0.05) scale(1.0,1)" font-size="8" font-family='"Liberation Sans", sans-serif' font-weight="bold" text-anchor="end" dominant-baseline="central" fill="#000"  stroke="#000">-2</text>
<text transform="translate(26.80,273.06) skewX(0.05) scale(1.0,1)" font-size="8" font-family='"Liberation Sans", sans-serif' font-weight="bold" text-anchor="end" dominant-baseline="central" fill="#000"  stroke="#000">-3</text>
<text transform="translate(38.05,286.30) skewX(0.05) scale(1.0,1)" font-size="8" font-family='"Liberation Sans", sans-serif' font-weight="bold" text-anchor="middle" dominant-baseline="central" fill="#000"  stroke="#000">-1.0</text>
<text transform="translate(72.73,286.30) skewX(0.05) scale(1.0,1)" font-size="8" font-family='"Liberation Sans", sans-serif' font-weight="bold" text-anchor="middle" dominant-baseline="central" fill="#000"  stroke="#000">-0.5</text>
<text transform="translate(107.40,286.30) skewX(0.05) scale(1.0,1)" font-size="8" font-family='"Liberation Sans", sans-serif' font-weight="bold" text-anchor="middle" dominant-baseline="central" fill="#000"  stroke="#000">0.0</text>
<text transform="translate(142.07,286.30) skewX(0.05) scale(1.0,1)" font-size="8" font-family='"Liberation Sans", sans-serif' font-weight="bold" text-anchor="middle" dominant-baseline="central" fill="#000"  stroke="#000">0.5</text>
<text transform="translate(176.75,286.30) skewX(0.05) scale(1.0,1)" font-size="8" font-family='"Liberation Sans", sans-serif' font-weight="bold" text-anchor="middle" dominant-baseline="central" fill="#000"  stroke="#000">1.0</text>
<text transform="translate(105.80,296.60) skewX(0.05) scale(1.0,1)" font-size="8" font-family='"Liberation Sans", sans-serif' font-weight="bold" text-anchor="middle" dominant-baseline="central" fill="#000"  stroke="#000">Potential (vs. Ag/AgCl) / V</text>
<text transform="translate(8.3,216) rotate(-90) skewX(0.05)" font-size="8" font-family='"Liberation Sans", sans-serif' font-weight="bold" text-anchor="middle" dominant-baseline="central" stroke="#000">Current density / mA cm<tspan dy="-2.6" font-size="5">-2</tspan></text>
<path d="M38.30,227.70 C38.40,227.05 38.32,225.43 38.90,223.80 C39.48,222.17 40.67,219.98 41.80,217.90 C42.93,215.82 44.07,213.68 45.70,211.30 C47.33,208.92 49.55,205.48 51.60,203.60 C53.65,201.72 55.52,200.82 58.00,200.00 C60.48,199.18 63.17,198.67 66.50,198.70 C69.83,198.73 74.08,199.60 78.00,200.20 C81.92,200.80 84.75,201.57 90.00,202.30 C95.25,203.03 100.33,203.87 109.50,204.60 C118.67,205.33 133.78,206.27 145.00,206.70 C156.22,207.13 176.80,207.08 176.80,207.20 C176.80,207.32 156.22,207.03 145.00,207.40 C133.78,207.77 118.67,208.63 109.50,209.40 C100.33,210.17 95.92,211.15 90.00,212.00 C84.08,212.85 78.43,213.63 74.00,214.50 C69.57,215.37 66.20,216.48 63.40,217.20 C60.60,217.92 58.83,218.22 57.20,218.80 C55.57,219.38 55.83,219.68 53.60,220.70 C51.37,221.72 46.35,223.73 43.80,224.90 C41.25,226.07 39.22,227.23 38.30,227.70" fill="none" stroke="#f41c24" stroke-width="1.9" stroke-linejoin="round" stroke-linecap="round" />
<path d="M38.30,246.40 C38.57,243.78 39.15,235.28 39.90,230.70 C40.65,226.12 41.52,224.15 42.80,218.90 C44.08,213.65 45.48,203.62 47.60,199.20 C49.72,194.78 52.55,194.35 55.50,192.40 C58.45,190.45 62.37,188.48 65.30,187.50 C68.23,186.52 70.48,186.50 73.10,186.50 C75.72,186.50 78.18,186.92 81.00,187.50 C83.82,188.08 86.88,189.05 90.00,190.00 C93.12,190.95 96.03,192.13 99.70,193.20 C103.37,194.27 108.32,195.18 112.00,196.40 C115.68,197.62 118.53,199.20 121.80,200.50 C125.07,201.80 127.73,203.25 131.60,204.20 C135.47,205.15 137.47,205.70 145.00,206.20 C152.53,206.70 176.80,206.97 176.80,207.20 C176.80,207.43 154.98,207.28 145.00,207.60 C135.02,207.92 123.63,208.03 116.90,209.10 C110.17,210.17 109.08,212.03 104.60,214.00 C100.12,215.97 95.10,218.80 90.00,220.90 C84.90,223.00 77.62,225.13 74.00,226.60 C70.38,228.07 70.72,228.20 68.30,229.70 C65.88,231.20 62.60,233.63 59.50,235.60 C56.40,237.57 52.65,239.87 49.70,241.50 C46.75,243.13 43.70,244.58 41.80,245.40 C39.90,246.22 38.88,246.23 38.30,246.40" fill="none" stroke="#2266b0" stroke-width="1.9" stroke-linejoin="round" stroke-linecap="round" />
<path d="M37.90,271.90 C38.17,268.58 38.90,258.15 39.50,252.00 C40.10,245.85 40.83,240.00 41.50,235.00 C42.17,230.00 42.63,226.50 43.50,222.00 C44.37,217.50 45.35,213.40 46.70,208.00 C48.05,202.60 50.05,193.60 51.60,189.60 C53.15,185.60 54.60,185.38 56.00,184.00 C57.40,182.62 58.33,182.13 60.00,181.30 C61.67,180.47 64.37,179.58 66.00,179.00 C67.63,178.42 68.18,178.45 69.80,177.80 C71.42,177.15 74.00,175.67 75.70,175.10 C77.40,174.53 78.45,174.42 80.00,174.40 C81.55,174.38 83.33,174.73 85.00,175.00 C86.67,175.27 88.37,175.22 90.00,176.00 C91.63,176.78 92.37,177.85 94.80,179.70 C97.23,181.55 100.92,184.50 104.60,187.10 C108.28,189.70 112.82,193.25 116.90,195.30 C120.98,197.35 124.42,198.30 129.10,199.40 C133.78,200.50 137.05,200.98 145.00,201.90 C152.95,202.82 176.80,203.95 176.80,204.90 C176.80,205.85 154.58,206.98 145.00,207.60 C135.42,208.22 125.22,207.62 119.30,208.60 C113.38,209.58 112.77,211.45 109.50,213.50 C106.23,215.55 102.95,218.72 99.70,220.90 C96.45,223.08 94.28,223.92 90.00,226.60 C85.72,229.28 78.43,233.70 74.00,237.00 C69.57,240.30 66.80,243.37 63.40,246.40 C60.00,249.43 56.87,252.10 53.60,255.20 C50.33,258.30 46.42,262.22 43.80,265.00 C41.18,267.78 38.88,270.75 37.90,271.90" fill="none" stroke="#ffc000" stroke-width="1.9" stroke-linejoin="round" stroke-linecap="round" />
<path d="M38.30,262.10 C38.57,259.15 39.15,250.28 39.90,244.40 C40.65,238.52 41.82,232.03 42.80,226.80 C43.78,221.57 44.67,218.25 45.80,213.00 C46.93,207.75 47.65,200.05 49.60,195.30 C51.55,190.55 54.88,186.85 57.50,184.50 C60.12,182.15 62.03,181.68 65.30,181.20 C68.57,180.72 72.98,181.23 77.10,181.60 C81.22,181.97 86.23,182.83 90.00,183.40 C93.77,183.97 96.45,184.47 99.70,185.00 C102.95,185.53 106.63,185.65 109.50,186.60 C112.37,187.55 114.45,188.98 116.90,190.70 C119.35,192.42 121.75,195.05 124.20,196.90 C126.65,198.75 128.13,200.50 131.60,201.80 C135.07,203.10 137.47,203.80 145.00,204.70 C152.53,205.60 176.80,206.68 176.80,207.20 C176.80,207.72 152.95,207.68 145.00,207.80 C137.05,207.92 132.97,207.48 129.10,207.90 C125.23,208.32 124.25,208.87 121.80,210.30 C119.35,211.73 117.27,215.27 114.40,216.50 C111.53,217.73 108.67,216.48 104.60,217.70 C100.53,218.92 95.10,221.15 90.00,223.80 C84.90,226.45 78.43,230.82 74.00,233.60 C69.57,236.38 66.80,238.05 63.40,240.50 C60.00,242.95 56.87,245.52 53.60,248.30 C50.33,251.08 46.35,254.90 43.80,257.20 C41.25,259.50 39.22,261.28 38.30,262.10" fill="none" stroke="#14bd6a" stroke-width="1.9" stroke-linejoin="round" stroke-linecap="round" />
<line x1="144.60" y1="239.00" x2="162.20" y2="239.00" stroke="#f41c24" stroke-width="1.7" />
<text transform="translate(163.80,239.20) skewX(0.05) scale(1.0,1)" font-size="8.2" font-family='"Liberation Sans", sans-serif' font-weight="bold" text-anchor="start" dominant-baseline="central" fill="#000"  stroke="#000">M0</text>
<line x1="144.60" y1="249.00" x2="162.20" y2="249.00" stroke="#2266b0" stroke-width="1.7" />
<text transform="translate(163.80,249.20) skewX(0.05) scale(1.0,1)" font-size="8.2" font-family='"Liberation Sans", sans-serif' font-weight="bold" text-anchor="start" dominant-baseline="central" fill="#000"  stroke="#000">M1</text>
<line x1="144.60" y1="258.50" x2="162.20" y2="258.50" stroke="#ffc000" stroke-width="1.7" />
<text transform="translate(163.80,258.70) skewX(0.05) scale(1.0,1)" font-size="8.2" font-family='"Liberation Sans", sans-serif' font-weight="bold" text-anchor="start" dominant-baseline="central" fill="#000"  stroke="#000">M2</text>
<line x1="144.60" y1="267.70" x2="162.20" y2="267.70" stroke="#14bd6a" stroke-width="1.7" />
<text transform="translate(163.80,267.90) skewX(0.05) scale(1.0,1)" font-size="8.2" font-family='"Liberation Sans", sans-serif' font-weight="bold" text-anchor="start" dominant-baseline="central" fill="#000"  stroke="#000">M5</text>
<text transform="translate(109.30,252.70) skewX(0.05) scale(1.0,1)" font-size="15.6" font-family='"Liberation Sans", sans-serif' font-weight="bold" text-anchor="middle" dominant-baseline="central" fill="#000"  stroke="#000">d</text>
<line x1="217.40" y1="270.60" x2="217.40" y2="272.60" stroke="#000" stroke-width="0.8" />
<line x1="227.61" y1="270.60" x2="227.61" y2="271.90" stroke="#000" stroke-width="0.8" />
<line x1="237.81" y1="270.60" x2="237.81" y2="272.60" stroke="#000" stroke-width="0.8" />
<line x1="248.02" y1="270.60" x2="248.02" y2="271.90" stroke="#000" stroke-width="0.8" />
<line x1="258.23" y1="270.60" x2="258.23" y2="272.60" stroke="#000" stroke-width="0.8" />
<line x1="268.44" y1="270.60" x2="268.44" y2="271.90" stroke="#000" stroke-width="0.8" />
<line x1="278.64" y1="270.60" x2="278.64" y2="272.60" stroke="#000" stroke-width="0.8" />
<line x1="288.85" y1="270.60" x2="288.85" y2="271.90" stroke="#000" stroke-width="0.8" />
<line x1="299.06" y1="270.60" x2="299.06" y2="272.60" stroke="#000" stroke-width="0.8" />
<line x1="309.26" y1="270.60" x2="309.26" y2="271.90" stroke="#000" stroke-width="0.8" />
<line x1="319.47" y1="270.60" x2="319.47" y2="272.60" stroke="#000" stroke-width="0.8" />
<line x1="329.68" y1="270.60" x2="329.68" y2="271.90" stroke="#000" stroke-width="0.8" />
<line x1="339.89" y1="270.60" x2="339.89" y2="272.60" stroke="#000" stroke-width="0.8" />
<line x1="350.09" y1="270.60" x2="350.09" y2="271.90" stroke="#000" stroke-width="0.8" />
<line x1="360.30" y1="270.60" x2="360.30" y2="272.60" stroke="#000" stroke-width="0.8" />
<line x1="217.40" y1="177.00" x2="216.10" y2="177.00" stroke="#000" stroke-width="0.8" />
<line x1="217.40" y1="184.80" x2="216.10" y2="184.80" stroke="#000" stroke-width="0.8" />
<line x1="217.40" y1="192.60" x2="215.40" y2="192.60" stroke="#000" stroke-width="0.8" />
<line x1="217.40" y1="200.40" x2="216.10" y2="200.40" stroke="#000" stroke-width="0.8" />
<line x1="217.40" y1="208.20" x2="216.10" y2="208.20" stroke="#000" stroke-width="0.8" />
<line x1="217.40" y1="216.00" x2="216.10" y2="216.00" stroke="#000" stroke-width="0.8" />
<line x1="217.40" y1="223.80" x2="215.40" y2="223.80" stroke="#000" stroke-width="0.8" />
<line x1="217.40" y1="231.60" x2="216.10" y2="231.60" stroke="#000" stroke-width="0.8" />
<line x1="217.40" y1="239.40" x2="216.10" y2="239.40" stroke="#000" stroke-width="0.8" />
<line x1="217.40" y1="247.20" x2="216.10" y2="247.20" stroke="#000" stroke-width="0.8" />
<line x1="217.40" y1="255.00" x2="215.40" y2="255.00" stroke="#000" stroke-width="0.8" />
<line x1="217.40" y1="262.80" x2="216.10" y2="262.80" stroke="#000" stroke-width="0.8" />
<line x1="217.40" y1="270.60" x2="216.10" y2="270.60" stroke="#000" stroke-width="0.8" />
<rect x="217.4" y="169.0" width="143.99999999999997" height="101.60000000000002" fill="none" stroke="#000" stroke-width="1.6"/>
<text transform="translate(215.00,193.40) skewX(0.05) scale(1.0,1)" font-size="8" font-family='"Liberation Sans", sans-serif' font-weight="bold" text-anchor="end" dominant-baseline="central" fill="#000"  stroke="#000">-0.8</text>
<text transform="translate(215.00,224.60) skewX(0.05) scale(1.0,1)" font-size="8" font-family='"Liberation Sans", sans-serif' font-weight="bold" text-anchor="end" dominant-baseline="central" fill="#000"  stroke="#000">-0.4</text>
<text transform="translate(215.00,255.80) skewX(0.05) scale(1.0,1)" font-size="8" font-family='"Liberation Sans", sans-serif' font-weight="bold" text-anchor="end" dominant-baseline="central" fill="#000"  stroke="#000">0.0</text>
<text transform="translate(217.40,277.80) skewX(0.05) scale(1.0,1)" font-size="8" font-family='"Liberation Sans", sans-serif' font-weight="bold" text-anchor="middle" dominant-baseline="central" fill="#000"  stroke="#000">0</text>
<text transform="translate(237.81,277.80) skewX(0.05) scale(1.0,1)" font-size="8" font-family='"Liberation Sans", sans-serif' font-weight="bold" text-anchor="middle" dominant-baseline="central" fill="#000"  stroke="#000">200</text>
<text transform="translate(258.23,277.80) skewX(0.05) scale(1.0,1)" font-size="8" font-family='"Liberation Sans", sans-serif' font-weight="bold" text-anchor="middle" dominant-baseline="central" fill="#000"  stroke="#000">400</text>
<text transform="translate(278.64,277.80) skewX(0.05) scale(1.0,1)" font-size="8" font-family='"Liberation Sans", sans-serif' font-weight="bold" text-anchor="middle" dominant-baseline="central" fill="#000"  stroke="#000">600</text>
<text transform="translate(299.06,277.80) skewX(0.05) scale(1.0,1)" font-size="8" font-family='"Liberation Sans", sans-serif' font-weight="bold" text-anchor="middle" dominant-baseline="central" fill="#000"  stroke="#000">800</text>
<text transform="translate(319.47,277.80) skewX(0.05) scale(1.0,1)" font-size="8" font-family='"Liberation Sans", sans-serif' font-weight="bold" text-anchor="middle" dominant-baseline="central" fill="#000"  stroke="#000">1000</text>
<text transform="translate(339.89,277.80) skewX(0.05) scale(1.0,1)" font-size="8" font-family='"Liberation Sans", sans-serif' font-weight="bold" text-anchor="middle" dominant-baseline="central" fill="#000"  stroke="#000">1200</text>
<text transform="translate(360.30,277.80) skewX(0.05) scale(1.0,1)" font-size="8" font-family='"Liberation Sans", sans-serif' font-weight="bold" text-anchor="middle" dominant-baseline="central" fill="#000"  stroke="#000">1400</text>
<text transform="translate(289.20,287.00) skewX(0.05) scale(1.0,1)" font-size="8" font-family='"Liberation Sans", sans-serif' font-weight="bold" text-anchor="middle" dominant-baseline="central" fill="#000"  stroke="#000">Time / s</text>
<text transform="translate(194,215.5) rotate(-90) skewX(0.05)" font-size="8" font-family='"Liberation Sans", sans-serif' font-weight="bold" text-anchor="middle" dominant-baseline="central" stroke="#000">Potential vs (Ag/AgCl) / V</text>
<path d="M217.60,270.50 L217.70,262.00 L218.30,256.00 L218.79,252.49 L219.28,249.71 L219.76,247.38 L220.25,245.35 L220.74,243.54 L221.23,241.89 L221.71,240.38 L222.20,238.97 L222.69,237.66 L223.18,236.42 L223.66,235.25 L224.15,234.14 L224.64,233.08 L225.12,232.07 L225.61,231.09 L226.10,230.16 L226.59,229.26 L227.07,228.39 L227.56,227.55 L228.05,226.73 L228.54,225.94 L229.03,225.17 L229.51,224.42 L230.00,223.69 L230.50,222.97 L231.97,220.92 L233.45,219.01 L234.92,217.20 L236.40,215.50 L237.87,213.88 L239.35,212.34 L240.82,210.86 L242.29,209.44 L243.77,208.08 L245.24,206.77 L246.72,205.50 L248.19,204.27 L249.67,203.08 L251.14,201.92 L252.62,200.80 L254.09,199.71 L255.56,198.65 L257.04,197.61 L258.51,196.60 L259.99,195.62 L261.46,194.65 L262.94,193.71 L264.41,192.78 L265.88,191.88 L267.36,190.99 L268.83,190.12 L270.31,189.27 L271.78,188.43 L273.26,187.60 L274.73,186.80 L276.21,186.00 L277.68,185.22 L279.15,184.45 L280.63,183.69 L282.10,182.94 L283.58,182.21 L285.05,181.48 L286.53,180.77 L288.00,180.06 L291.30,176.90" fill="none" stroke="#f41c24" stroke-width="1.9" stroke-linejoin="round" stroke-linecap="round" />
<path d="M291.30,176.90 L291.34,178.08 L291.46,179.27 L291.62,180.45 L291.83,181.64 L292.22,182.82 L292.76,184.01 L293.39,185.19 L294.06,186.38 L294.73,187.56 L295.38,188.75 L296.08,189.93 L296.82,191.12 L297.60,192.30 L298.39,193.49 L299.21,194.67 L300.03,195.86 L300.86,197.04 L301.69,198.23 L302.54,199.41 L303.41,200.60 L304.30,201.78 L305.22,202.97 L306.16,204.15 L307.15,205.34 L308.17,206.52 L309.21,207.71 L310.26,208.89 L311.31,210.07 L312.35,211.26 L313.39,212.44 L314.43,213.63 L315.47,214.81 L316.50,216.00 L317.53,217.18 L318.54,218.37 L319.53,219.55 L320.50,220.74 L321.46,221.92 L322.41,223.11 L323.35,224.29 L324.29,225.48 L325.21,226.66 L326.14,227.85 L327.06,229.03 L327.98,230.22 L328.88,231.40 L329.78,232.59 L330.66,233.77 L331.51,234.96 L332.35,236.14 L333.17,237.33 L333.98,238.51 L334.77,239.69 L335.54,240.88 L336.30,242.06 L337.03,243.25 L337.74,244.43 L338.45,245.62 L339.13,246.80 L339.81,247.99 L340.46,249.17 L341.11,250.36 L341.74,251.54 L342.36,252.73 L342.97,253.91 L343.57,255.10 L344.16,256.28 L344.73,257.47 L345.29,258.65 L345.81,259.84 L346.31,261.02 L346.79,262.21 L347.25,263.39 L347.70,264.58 L348.10,265.76 L348.46,266.95 L348.75,268.13 L349.00,269.32 L349.20,270.50" fill="none" stroke="#f41c24" stroke-width="1.9" stroke-linejoin="round" stroke-linecap="round" />
<path d="M246.90,176.70 L245.95,177.89 L245.02,179.07 L244.12,180.26 L243.26,181.45 L242.42,182.64 L241.60,183.82 L240.80,185.01 L240.02,186.20 L239.25,187.39 L238.50,188.57 L237.75,189.76 L237.01,190.95 L236.27,192.14 L235.55,193.32 L234.84,194.51 L234.16,195.70 L233.50,196.88 L232.87,198.07 L232.27,199.26 L231.72,200.45 L231.19,201.63 L230.67,202.82 L230.16,204.01 L229.64,205.20 L229.10,206.38 L228.54,207.57 L227.98,208.76 L227.42,209.95 L226.86,211.13 L226.32,212.32 L225.79,213.51 L225.28,214.69 L224.80,215.88 L224.32,217.07 L223.85,218.26 L223.39,219.44 L222.94,220.63 L222.51,221.82 L222.10,223.01 L221.72,224.19 L221.35,225.38 L220.99,226.57 L220.63,227.76 L220.29,228.94 L219.96,230.13 L219.65,231.32 L219.38,232.51 L219.16,233.69 L218.99,234.88 L218.85,236.07 L218.72,237.25 L218.61,238.44 L218.51,239.63 L218.41,240.82 L218.33,242.00 L218.25,243.19 L218.18,244.38 L218.12,245.57 L218.06,246.75 L218.01,247.94 L217.96,249.13 L217.91,250.32 L217.87,251.50 L217.83,252.69 L217.79,253.88 L217.76,255.06 L217.73,256.25 L217.71,257.44 L217.69,258.63 L217.68,259.81 L217.66,261.00 L217.65,262.19 L217.64,263.38 L217.63,264.56 L217.62,265.75 L217.61,266.94 L217.60,268.13 L217.60,269.31 L217.60,270.50" fill="none" stroke="#2266b0" stroke-width="1.9" stroke-linejoin="round" stroke-linecap="round" />
<path d="M246.90,176.70 L246.91,177.89 L246.93,179.07 L246.97,180.26 L247.02,181.45 L247.09,182.64 L247.16,183.82 L247.25,185.01 L247.35,186.20 L247.55,187.39 L247.84,188.57 L248.18,189.76 L248.53,190.95 L248.86,192.14 L249.20,193.32 L249.56,194.51 L249.93,195.70 L250.32,196.88 L250.70,198.07 L251.08,199.26 L251.47,200.45 L251.87,201.63 L252.27,202.82 L252.67,204.01 L253.07,205.20 L253.47,206.38 L253.86,207.57 L254.24,208.76 L254.61,209.95 L254.97,211.13 L255.32,212.32 L255.67,213.51 L256.02,214.69 L256.38,215.88 L256.74,217.07 L257.10,218.26 L257.48,219.44 L257.88,220.63 L258.28,221.82 L258.70,223.01 L259.13,224.19 L259.58,225.38 L260.03,226.57 L260.48,227.76 L260.95,228.94 L261.42,230.13 L261.89,231.32 L262.37,232.51 L262.85,233.69 L263.34,234.88 L263.82,236.07 L264.30,237.25 L264.78,238.44 L265.25,239.63 L265.75,240.82 L266.26,242.00 L266.79,243.19 L267.32,244.38 L267.85,245.57 L268.39,246.75 L268.91,247.94 L269.43,249.13 L269.93,250.32 L270.42,251.50 L270.88,252.69 L271.31,253.88 L271.71,255.06 L272.07,256.25 L272.42,257.44 L272.76,258.63 L273.08,259.81 L273.40,261.00 L273.70,262.19 L273.99,263.38 L274.27,264.56 L274.53,265.75 L274.77,266.94 L275.00,268.13 L275.21,269.31 L275.40,270.50" fill="none" stroke="#2266b0" stroke-width="1.9" stroke-linejoin="round" stroke-linecap="round" />
<path d="M237.00,176.70 L235.36,177.89 L234.07,179.07 L232.97,180.26 L231.98,181.45 L231.04,182.64 L230.17,183.82 L229.37,185.01 L228.67,186.20 L228.06,187.39 L227.52,188.57 L227.02,189.76 L226.55,190.95 L226.12,192.14 L225.71,193.32 L225.32,194.51 L224.94,195.70 L224.57,196.88 L224.21,198.07 L223.86,199.26 L223.53,200.45 L223.21,201.63 L222.89,202.82 L222.59,204.01 L222.29,205.20 L222.00,206.38 L221.72,207.57 L221.44,208.76 L221.16,209.95 L220.87,211.13 L220.59,212.32 L220.32,213.51 L220.07,214.69 L219.85,215.88 L219.65,217.07 L219.48,218.26 L219.32,219.44 L219.17,220.63 L219.02,221.82 L218.89,223.01 L218.77,224.19 L218.65,225.38 L218.54,226.57 L218.44,227.76 L218.36,228.94 L218.28,230.13 L218.20,231.32 L218.13,232.51 L218.06,233.69 L217.99,234.88 L217.92,236.07 L217.87,237.25 L217.81,238.44 L217.77,239.63 L217.74,240.82 L217.71,242.00 L217.70,243.19 L217.69,244.38 L217.68,245.57 L217.67,246.75 L217.67,247.94 L217.66,249.13 L217.65,250.32 L217.65,251.50 L217.64,252.69 L217.64,253.88 L217.63,255.06 L217.63,256.25 L217.62,257.44 L217.62,258.63 L217.61,259.81 L217.61,261.00 L217.61,262.19 L217.61,263.38 L217.60,264.56 L217.60,265.75 L217.60,266.94 L217.60,268.13 L217.60,269.31 L217.60,270.50" fill="none" stroke="#ffc000" stroke-width="1.9" stroke-linejoin="round" stroke-linecap="round" />
<path d="M237.00,176.70 L237.09,177.89 L237.19,179.07 L237.30,180.26 L237.42,181.45 L237.54,182.64 L237.67,183.82 L237.81,185.01 L237.96,186.20 L238.12,187.39 L238.29,188.57 L238.47,189.76 L238.65,190.95 L238.84,192.14 L239.04,193.32 L239.25,194.51 L239.48,195.70 L239.71,196.88 L239.95,198.07 L240.19,199.26 L240.43,200.45 L240.67,201.63 L240.90,202.82 L241.12,204.01 L241.34,205.20 L241.56,206.38 L241.78,207.57 L242.00,208.76 L242.22,209.95 L242.45,211.13 L242.68,212.32 L242.93,213.51 L243.18,214.69 L243.44,215.88 L243.72,217.07 L244.02,218.26 L244.34,219.44 L244.69,220.63 L245.05,221.82 L245.43,223.01 L245.82,224.19 L246.21,225.38 L246.60,226.57 L246.98,227.76 L247.35,228.94 L247.71,230.13 L248.06,231.32 L248.41,232.51 L248.77,233.69 L249.12,234.88 L249.47,236.07 L249.81,237.25 L250.14,238.44 L250.47,239.63 L250.77,240.82 L251.07,242.00 L251.34,243.19 L251.59,244.38 L251.83,245.57 L252.05,246.75 L252.27,247.94 L252.49,249.13 L252.72,250.32 L252.98,251.50 L253.26,252.69 L253.56,253.88 L253.87,255.06 L254.19,256.25 L254.49,257.44 L254.77,258.63 L255.03,259.81 L255.25,261.00 L255.42,262.19 L255.58,263.38 L255.72,264.56 L255.85,265.75 L255.97,266.94 L256.07,268.13 L256.14,269.31 L256.20,270.50" fill="none" stroke="#ffc000" stroke-width="1.9" stroke-linejoin="round" stroke-linecap="round" />
<path d="M233.60,176.70 L232.63,177.89 L231.84,179.07 L231.20,180.26 L230.63,181.45 L230.11,182.64 L229.63,183.82 L229.17,185.01 L228.71,186.20 L228.25,187.39 L227.81,188.57 L227.38,189.76 L226.96,190.95 L226.56,192.14 L226.18,193.32 L225.82,194.51 L225.49,195.70 L225.18,196.88 L224.90,198.07 L224.63,199.26 L224.38,200.45 L224.14,201.63 L223.91,202.82 L223.69,204.01 L223.48,205.20 L223.27,206.38 L223.06,207.57 L222.86,208.76 L222.65,209.95 L222.46,211.13 L222.27,212.32 L222.08,213.51 L221.90,214.69 L221.72,215.88 L221.55,217.07 L221.37,218.26 L221.20,219.44 L221.02,220.63 L220.85,221.82 L220.68,223.01 L220.51,224.19 L220.35,225.38 L220.19,226.57 L220.04,227.76 L219.90,228.94 L219.76,230.13 L219.64,231.32 L219.51,232.51 L219.39,233.69 L219.27,234.88 L219.16,236.07 L219.05,237.25 L218.94,238.44 L218.84,239.63 L218.75,240.82 L218.67,242.00 L218.59,243.19 L218.51,244.38 L218.44,245.57 L218.37,246.75 L218.31,247.94 L218.25,249.13 L218.19,250.32 L218.14,251.50 L218.09,252.69 L218.04,253.88 L218.00,255.06 L217.96,256.25 L217.92,257.44 L217.88,258.63 L217.84,259.81 L217.81,261.00 L217.77,262.19 L217.74,263.38 L217.71,264.56 L217.68,265.75 L217.66,266.94 L217.64,268.13 L217.62,269.31 L217.60,270.50" fill="none" stroke="#14bd6a" stroke-width="1.9" stroke-linejoin="round" stroke-linecap="round" />
<path d="M233.60,176.70 L233.65,177.89 L233.71,179.07 L233.78,180.26 L233.87,181.45 L233.96,182.64 L234.07,183.82 L234.20,185.01 L234.34,186.20 L234.49,187.39 L234.65,188.57 L234.81,189.76 L234.97,190.95 L235.13,192.14 L235.30,193.32 L235.48,194.51 L235.67,195.70 L235.87,196.88 L236.06,198.07 L236.25,199.26 L236.42,200.45 L236.58,201.63 L236.72,202.82 L236.86,204.01 L236.98,205.20 L237.10,206.38 L237.21,207.57 L237.32,208.76 L237.43,209.95 L237.54,211.13 L237.65,212.32 L237.77,213.51 L237.89,214.69 L238.02,215.88 L238.16,217.07 L238.31,218.26 L238.48,219.44 L238.66,220.63 L238.85,221.82 L239.04,223.01 L239.24,224.19 L239.43,225.38 L239.63,226.57 L239.81,227.76 L239.98,228.94 L240.14,230.13 L240.29,231.32 L240.43,232.51 L240.56,233.69 L240.69,234.88 L240.82,236.07 L240.94,237.25 L241.07,238.44 L241.20,239.63 L241.33,240.82 L241.48,242.00 L241.62,243.19 L241.79,244.38 L241.96,245.57 L242.14,246.75 L242.32,247.94 L242.51,249.13 L242.70,250.32 L242.88,251.50 L243.06,252.69 L243.24,253.88 L243.40,255.06 L243.56,256.25 L243.70,257.44 L243.84,258.63 L243.97,259.81 L244.10,261.00 L244.23,262.19 L244.36,263.38 L244.48,264.56 L244.59,265.75 L244.70,266.94 L244.81,268.13 L244.91,269.31 L245.00,270.50" fill="none" stroke="#14bd6a" stroke-width="1.9" stroke-linejoin="round" stroke-linecap="round" />
<line x1="300.80" y1="178.50" x2="314.80" y2="178.50" stroke="#f41c24" stroke-width="1.7" />
<text transform="translate(316.4,178.3) skewX(0.05) scale(0.9,1)" font-size="6.9" font-family='"Liberation Sans", sans-serif' font-weight="bold" dominant-baseline="central" stroke="#000">0.25 mA/cm<tspan dy="-2.4" font-size="5">2</tspan></text>
<line x1="300.80" y1="188.70" x2="314.80" y2="188.70" stroke="#2266b0" stroke-width="1.7" />
<text transform="translate(316.4,188.5) skewX(0.05) scale(0.9,1)" font-size="6.9" font-family='"Liberation Sans", sans-serif' font-weight="bold" dominant-baseline="central" stroke="#000">0.50 mA/cm<tspan dy="-2.4" font-size="5">2</tspan></text>
<line x1="300.80" y1="198.50" x2="314.80" y2="198.50" stroke="#ffc000" stroke-width="1.7" />
<text transform="translate(316.4,198.3) skewX(0.05) scale(0.9,1)" font-size="6.9" font-family='"Liberation Sans", sans-serif' font-weight="bold" dominant-baseline="central" stroke="#000">0.75 mA/cm<tspan dy="-2.4" font-size="5">2</tspan></text>
<line x1="300.80" y1="208.30" x2="314.80" y2="208.30" stroke="#14bd6a" stroke-width="1.7" />
<text transform="translate(316.4,208.1) skewX(0.05) scale(0.9,1)" font-size="6.9" font-family='"Liberation Sans", sans-serif' font-weight="bold" dominant-baseline="central" stroke="#000">1 mA/cm<tspan dy="-2.4" font-size="5">2</tspan></text>
<text transform="translate(317.90,247.80) skewX(0.05) scale(1.0,1)" font-size="16.5" font-family='"Liberation Sans", sans-serif' font-weight="bold" text-anchor="middle" dominant-baseline="central" fill="#000"  stroke="#000">e</text>
<line x1="408.55" y1="273.20" x2="408.55" y2="274.50" stroke="#000" stroke-width="0.8" />
<line x1="426.00" y1="273.20" x2="426.00" y2="275.20" stroke="#000" stroke-width="0.8" />
<line x1="443.45" y1="273.20" x2="443.45" y2="274.50" stroke="#000" stroke-width="0.8" />
<line x1="460.90" y1="273.20" x2="460.90" y2="275.20" stroke="#000" stroke-width="0.8" />
<line x1="478.35" y1="273.20" x2="478.35" y2="274.50" stroke="#000" stroke-width="0.8" />
<line x1="495.80" y1="273.20" x2="495.80" y2="275.20" stroke="#000" stroke-width="0.8" />
<line x1="513.25" y1="273.20" x2="513.25" y2="274.50" stroke="#000" stroke-width="0.8" />
<line x1="530.70" y1="273.20" x2="530.70" y2="275.20" stroke="#000" stroke-width="0.8" />
<line x1="401.60" y1="273.20" x2="399.60" y2="273.20" stroke="#000" stroke-width="0.8" />
<line x1="401.60" y1="256.33" x2="400.30" y2="256.33" stroke="#000" stroke-width="0.8" />
<line x1="401.60" y1="239.47" x2="399.60" y2="239.47" stroke="#000" stroke-width="0.8" />
<line x1="401.60" y1="222.60" x2="400.30" y2="222.60" stroke="#000" stroke-width="0.8" />
<line x1="401.60" y1="205.73" x2="399.60" y2="205.73" stroke="#000" stroke-width="0.8" />
<line x1="401.60" y1="188.87" x2="400.30" y2="188.87" stroke="#000" stroke-width="0.8" />
<line x1="401.60" y1="172.00" x2="399.60" y2="172.00" stroke="#000" stroke-width="0.8" />
<rect x="401.6" y="172.0" width="144.60000000000002" height="101.19999999999999" fill="none" stroke="#000" stroke-width="1.6"/>
<text transform="translate(399.40,172.30) skewX(0.05) scale(1.0,1)" font-size="8" font-family='"Liberation Sans", sans-serif' font-weight="bold" text-anchor="end" dominant-baseline="central" fill="#000"  stroke="#000">120</text>
<text transform="translate(399.40,206.03) skewX(0.05) scale(1.0,1)" font-size="8" font-family='"Liberation Sans", sans-serif' font-weight="bold" text-anchor="end" dominant-baseline="central" fill="#000"  stroke="#000">80</text>
<text transform="translate(399.40,239.77) skewX(0.05) scale(1.0,1)" font-size="8" font-family='"Liberation Sans", sans-serif' font-weight="bold" text-anchor="end" dominant-baseline="central" fill="#000"  stroke="#000">40</text>
<text transform="translate(399.40,273.50) skewX(0.05) scale(1.0,1)" font-size="8" font-family='"Liberation Sans", sans-serif' font-weight="bold" text-anchor="end" dominant-baseline="central" fill="#000"  stroke="#000">0</text>
<text transform="translate(426.00,281.10) skewX(0.05) scale(1.0,1)" font-size="8" font-family='"Liberation Sans", sans-serif' font-weight="bold" text-anchor="middle" dominant-baseline="central" fill="#000"  stroke="#000">0.5</text>
<text transform="translate(460.90,281.10) skewX(0.05) scale(1.0,1)" font-size="8" font-family='"Liberation Sans", sans-serif' font-weight="bold" text-anchor="middle" dominant-baseline="central" fill="#000"  stroke="#000">1.0</text>
<text transform="translate(495.80,281.10) skewX(0.05) scale(1.0,1)" font-size="8" font-family='"Liberation Sans", sans-serif' font-weight="bold" text-anchor="middle" dominant-baseline="central" fill="#000"  stroke="#000">1.5</text>
<text transform="translate(530.70,281.10) skewX(0.05) scale(1.0,1)" font-size="8" font-family='"Liberation Sans", sans-serif' font-weight="bold" text-anchor="middle" dominant-baseline="central" fill="#000"  stroke="#000">2.0</text>
<text transform="translate(474,291.8) skewX(0.05)" font-size="8" font-family='"Liberation Sans", sans-serif' font-weight="bold" text-anchor="middle" dominant-baseline="central" stroke="#000">Current density / mA cm<tspan dy="-3.4" font-size="6.6">-2</tspan></text>
<text transform="translate(380.7,221.4) rotate(-90) skewX(0.05)" font-size="8" font-family='"Liberation Sans", sans-serif' font-weight="bold" text-anchor="middle" dominant-baseline="central" stroke="#000">Areal capacitance / mF cm<tspan dy="-3.4" font-size="6.6">-2</tspan></text>
<path d="M408.8,175.1 L426.2,176.8 L444,178.3 L461.5,185.4 L532,197.1" fill="none" stroke="#111" stroke-width="1.25" stroke-linejoin="round" stroke-linecap="round" />
<circle cx="408.8" cy="175.1" r="1.2" fill="#111"/>
<circle cx="426.2" cy="176.8" r="1.2" fill="#111"/>
<circle cx="444" cy="178.3" r="1.2" fill="#111"/>
<circle cx="461.5" cy="185.4" r="1.2" fill="#111"/>
<circle cx="532" cy="197.1" r="1.2" fill="#111"/>
<text transform="translate(408.1,186.6) skewX(0.05) scale(0.9,1)" font-size="6.8" font-family='"Liberation Sans", sans-serif' font-weight="bold" fill="#ff2020" dominant-baseline="central" stroke="#ff2020">117.1 mF/cm<tspan dy="-2.9" font-size="5.6">2</tspan></text>
<line x1="448.90" y1="188.00" x2="497.50" y2="198.30" stroke="#222" stroke-width="0.8" />
<path d="M500.8,199 L496.6,196.4 L495.9,199.6 Z" fill="#222"/>
<text transform="translate(502.6,202.3) skewX(0.05) scale(0.9,1)" font-size="7.1" font-family='"Liberation Sans", sans-serif' font-weight="bold" fill="#1cd81c" dominant-baseline="central" stroke="#1cd81c">93.4 mF/cm<tspan dy="-3.3" font-size="6.2">2</tspan></text>
<text transform="translate(527.00,247.60) skewX(0.05) scale(1.0,1)" font-size="16.2" font-family='"Liberation Sans", sans-serif' font-weight="bold" text-anchor="middle" dominant-baseline="central" fill="#000"  stroke="#000">f</text>
</svg>
</body></html>
